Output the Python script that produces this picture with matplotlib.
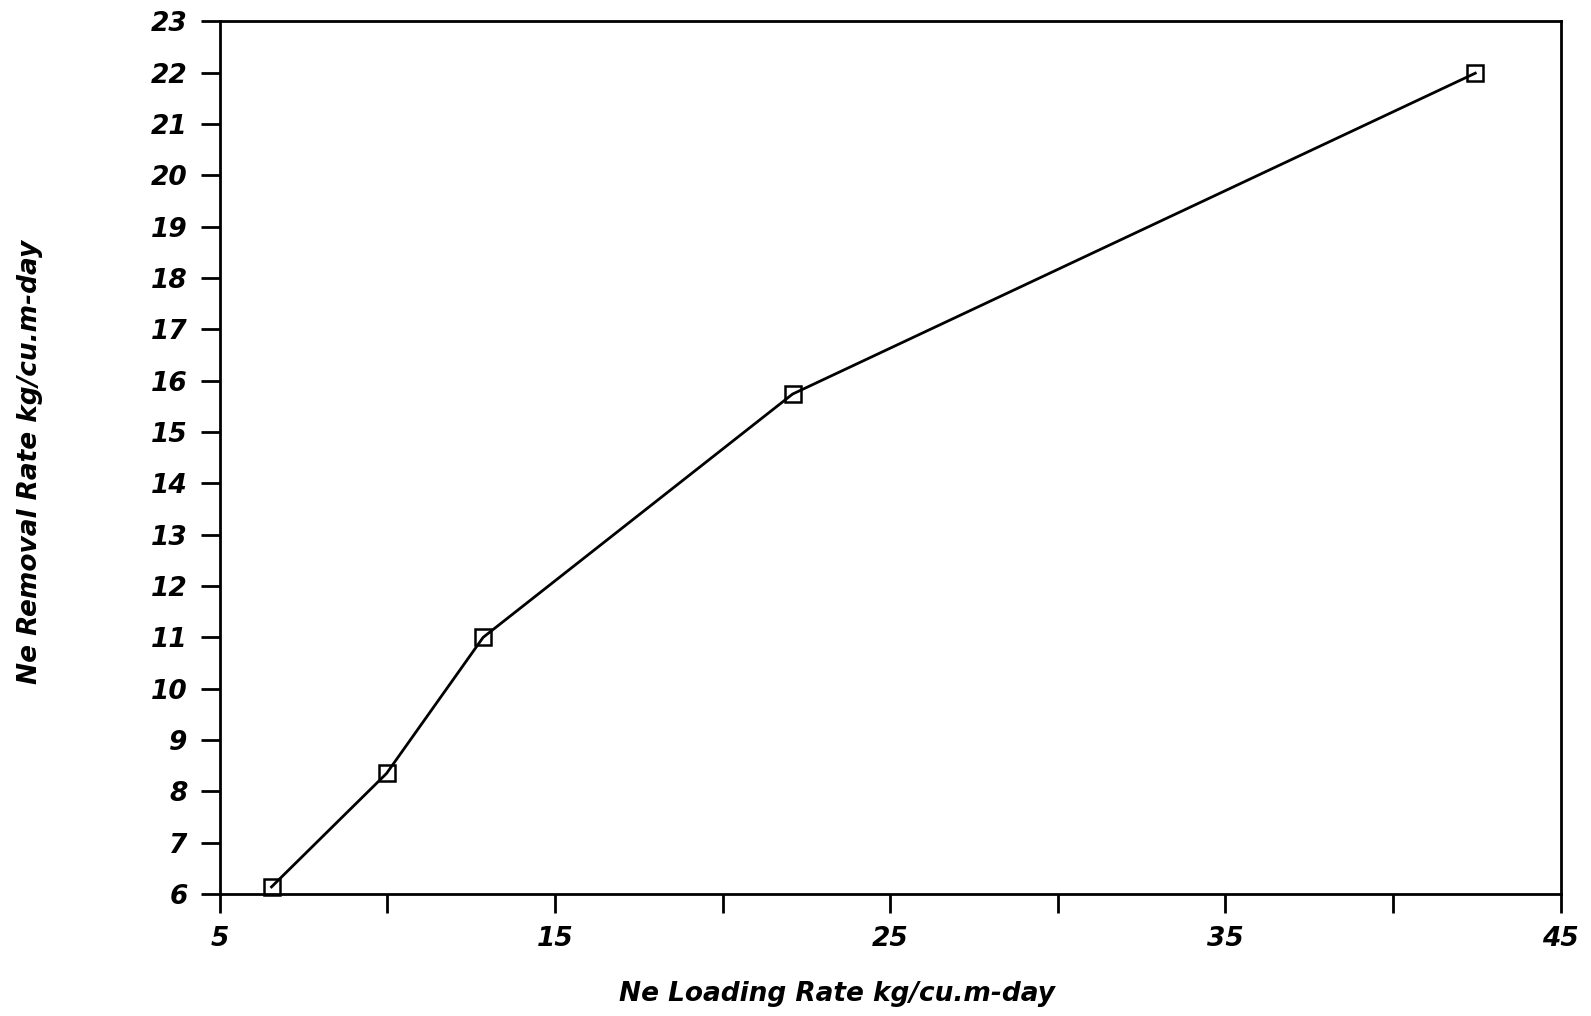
import matplotlib
matplotlib.use("Agg")
import matplotlib.pyplot as plt

# data
loading_rate = [6.55, 9.98, 12.86, 22.09, 42.45]
removal_rate = [6.14, 8.35, 11.0, 15.74, 21.99]

x_ticks = [5, 10, 15, 20, 25, 30, 35, 40, 45]
x_tick_labels = ["5", "", "15", "", "25", "", "35", "", "45"]
y_ticks = list(range(6, 24))

plt.rcParams['font.family'] = ['DejaVu Sans']
plt.rcParams['font.style'] = 'italic'

fig = plt.figure(figsize=(15.91, 10.16), dpi=100)
ax = fig.add_axes([0.138, 0.120, 0.843, 0.859])

ax.plot(loading_rate, removal_rate, color='black', linewidth=2.0,
        marker='s', markersize=12, markerfacecolor='none',
        markeredgecolor='black', markeredgewidth=1.8, clip_on=False)

ax.set_xlim(5, 45)
ax.set_ylim(6, 23)
ax.set_xticks(x_ticks)
ax.set_xticklabels(x_tick_labels)
ax.set_yticks(y_ticks)
ax.set_yticklabels([str(v) for v in y_ticks])

for side in ax.spines.values():
    side.set_linewidth(2.0)

ax.tick_params(axis='both', direction='out', length=14, width=2.0,
               labelsize=19, pad=9)
for lab in ax.get_xticklabels() + ax.get_yticklabels():
    lab.set_fontweight('bold')

ax.set_xlabel("Ne Loading Rate kg/cu.m-day", fontsize=19, fontweight='bold')
ax.set_ylabel("Ne Removal Rate kg/cu.m-day", fontsize=19, fontweight='bold')
ax.xaxis.set_label_coords(0.46, -0.1145)
ax.xaxis.label.set_va('center')
ax.yaxis.set_label_coords(-0.1413, 0.495)
ax.yaxis.label.set_va('center')

fig.savefig("out.png", dpi=100, facecolor='white')
